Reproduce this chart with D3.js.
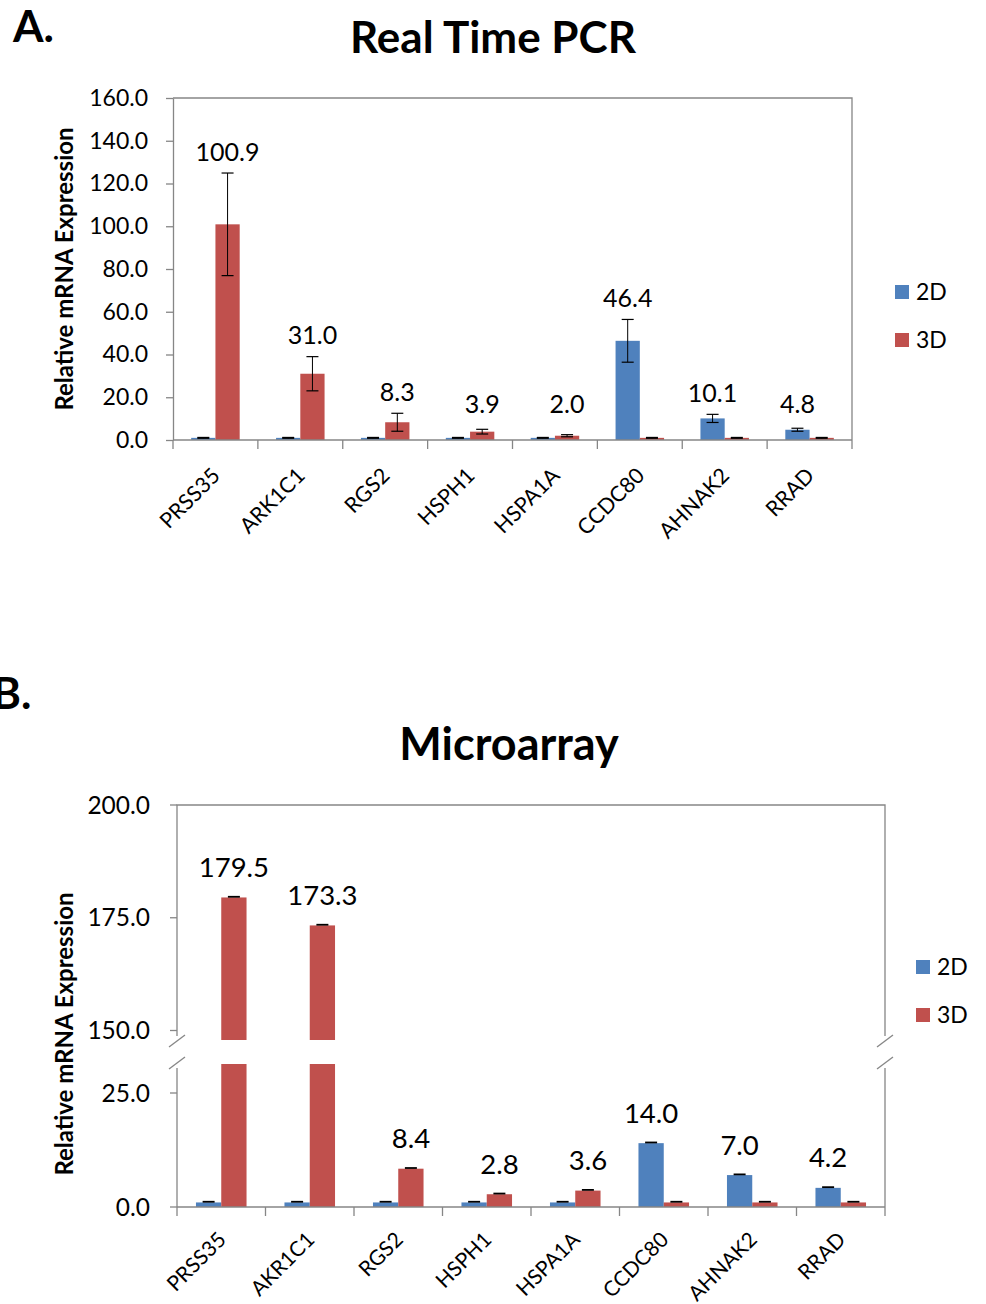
<!DOCTYPE html>
<html>
<head>
<meta charset="utf-8">
<script src="https://cdn.jsdelivr.net/npm/d3@7"></script>
<style>
  body { margin: 0; background: #fff; }
  svg text { font-family: Lato, "Open Sans", sans-serif; fill: #000; }
</style>
</head>
<body>
<svg id="chart" width="986" height="1304"></svg>
<script>
// ---- data: Real Time PCR (panel A)
const pcrGenes = ["PRSS35", "ARK1C1", "RGS2", "HSPH1", "HSPA1A", "CCDC80", "AHNAK2", "RRAD"];
const pcr2D = [1.0, 1.0, 1.0, 1.0, 1.0, 46.4, 10.1, 4.8];
const pcr3D = [100.9, 31.0, 8.3, 3.9, 2.0, 1.0, 1.0, 1.0];
const pcr2DErr = [0.2, 0.2, 0.2, 0.2, 0.2, 10.0, 1.9, 0.7];
const pcr3DErr = [24.0, 8.0, 4.2, 1.1, 0.5, 0.2, 0.2, 0.2];
const pcrTicks = [0, 20, 40, 60, 80, 100, 120, 140, 160];

// ---- data: Microarray (panel B)
const arrayGenes = ["PRSS35", "AKR1C1", "RGS2", "HSPH1", "HSPA1A", "CCDC80", "AHNAK2", "RRAD"];
const array2D = [1.0, 1.0, 1.0, 1.0, 1.0, 14.0, 7.0, 4.2];
const array3D = [179.5, 173.3, 8.4, 2.8, 3.6, 1.0, 1.0, 1.0];
const array2DErr = [0.15, 0.15, 0.15, 0.15, 0.15, 0.15, 0.15, 0.15];
const array3DErr = [0.15, 0.15, 0.15, 0.15, 0.15, 0.15, 0.15, 0.15];
const arrayTicksLow = [0, 25];
const arrayTicksHigh = [150, 175, 200];

const seriesNames = ["2D", "3D"];
const colors = ["#4F81BD", "#C0504D"];
const axisGray = "#868686";
const fmt = d3.format(".1f");

const svg = d3.select("#chart");

// shared: grouped bands for each gene
function makeX(genes, left, right) {
  const x0 = d3.scaleBand().domain(genes).range([left, right]).paddingInner(0).paddingOuter(0);
  // excel gap width 150% -> bars use 2/3.5 of band
  const x1 = d3.scaleBand().domain(seriesNames)
    .range([x0.bandwidth() * 0.75 / 3.5, x0.bandwidth() * (1 - 0.75 / 3.5)]).padding(0);
  return [x0, x1];
}

function drawXAxis(g, genes, x0, y, fontSize, drop) {
  g.append("line")
    .attr("x1", x0.range()[0]).attr("x2", x0.range()[1])
    .attr("y1", y).attr("y2", y)
    .attr("stroke", axisGray).attr("stroke-width", 1.3);
  const bounds = genes.map(d => x0(d)).concat([x0.range()[1]]);
  g.selectAll(".xtick").data(bounds).join("line")
    .attr("x1", d => d).attr("x2", d => d)
    .attr("y1", y).attr("y2", y + 9)
    .attr("stroke", axisGray).attr("stroke-width", 1.3);
  g.selectAll(".xlab").data(genes).join("text")
    .attr("text-anchor", "end")
    .attr("font-size", fontSize)
    .attr("transform", d => "translate(" + (x0(d) + x0.bandwidth() / 2 + 6) + "," + (y + drop) + ")rotate(-45)")
    .text(d => d);
}

function drawLegend(g, x, y) {
  seriesNames.forEach((s, i) => {
    g.append("rect")
      .attr("x", x).attr("y", y + i * 48 - 7)
      .attr("width", 14).attr("height", 14)
      .attr("fill", colors[i]);
    g.append("text")
      .attr("x", x + 21).attr("y", y + i * 48)
      .attr("dy", "0.35em")
      .attr("font-size", 23)
      .text(s);
  });
}

function drawErr(g, cx, yTop, yBot) {
  g.append("line").attr("x1", cx).attr("x2", cx).attr("y1", yTop).attr("y2", yBot)
    .attr("stroke", "#000").attr("stroke-width", 1);
  [yTop, yBot].forEach(yy => {
    g.append("line").attr("x1", cx - 6).attr("x2", cx + 6).attr("y1", yy).attr("y2", yy)
      .attr("stroke", "#000").attr("stroke-width", 1.2);
  });
}

// ================= Panel A =================
(function () {
  const left = 173, right = 852, top = 98, bottom = 440;
  const g = svg.append("g");
  const [x0, x1] = makeX(pcrGenes, left, right);
  const y = d3.scaleLinear().domain([0, 160]).range([bottom, top]);

  g.append("text").attr("x", 13).attr("y", 42).attr("font-size", 44).attr("font-weight", "bold").text("A.");
  g.append("text").attr("x", 493).attr("y", 53).attr("text-anchor", "middle")
    .attr("font-size", 44).attr("font-weight", "bold").text("Real Time PCR");

  // frame (top + right) and y axis
  g.append("path")
    .attr("d", "M" + left + "," + top + "H" + right + "V" + bottom)
    .attr("fill", "none").attr("stroke", axisGray).attr("stroke-width", 1.3);
  const yAxis = g.append("g").attr("transform", "translate(" + left + ",0)")
    .call(d3.axisLeft(y).tickValues(pcrTicks).tickFormat(fmt).tickSize(7).tickSizeOuter(0));
  yAxis.select(".domain").attr("stroke", axisGray).attr("stroke-width", 1.3);
  yAxis.selectAll(".tick line").attr("stroke", axisGray).attr("stroke-width", 1.3);
  yAxis.selectAll(".tick text").attr("font-size", 23).attr("font-family", "Lato, sans-serif")
    .attr("fill", "#000").attr("x", -25);

  g.append("text")
    .attr("transform", "translate(73," + ((top + bottom) / 2) + ")rotate(-90)")
    .attr("text-anchor", "middle").attr("font-size", 24).attr("font-weight", "bold")
    .text("Relative mRNA Expression");

  const vals = [pcr2D, pcr3D], errs = [pcr2DErr, pcr3DErr];
  pcrGenes.forEach((gene, i) => {
    seriesNames.forEach((s, k) => {
      const v = vals[k][i];
      const bx = x0(gene) + x1(s);
      g.append("rect")
        .attr("x", bx).attr("width", x1.bandwidth())
        .attr("y", y(v)).attr("height", y(0) - y(v))
        .attr("fill", colors[k]);
      drawErr(g, bx + x1.bandwidth() / 2, y(v + errs[k][i]), y(v - errs[k][i]));
    });
    // value label on the taller series
    const k = pcr3D[i] >= pcr2D[i] ? 1 : 0;
    const v = vals[k][i];
    const cx = x0(gene) + x1(seriesNames[k]) + x1.bandwidth() / 2;
    const ly = Math.min(y(v + errs[k][i]) - 21, 404);
    g.append("text").attr("x", cx).attr("y", ly).attr("dy", "0.35em")
      .attr("text-anchor", "middle").attr("font-size", 25).text(fmt(v));
  });

  drawXAxis(g, pcrGenes, x0, bottom, 21.5, 37);
  drawLegend(g, 895, 292);
})();

// ================= Panel B (broken axis) =================
(function () {
  const left = 177, right = 885, top = 805, bottom = 1207;
  const breakLow = 1064, breakHigh = 1040;
  const g = svg.append("g");
  const [x0, x1] = makeX(arrayGenes, left, right);
  const yLow = d3.scaleLinear().domain([0, 25]).range([bottom, 1093]);
  const yHigh = d3.scaleLinear().domain([150, 200]).range([1030.5, top]);
  const lowMax = yLow.invert(breakLow);

  g.append("text").attr("x", -8).attr("y", 709).attr("font-size", 44).attr("font-weight", "bold").text("B.");
  g.append("text").attr("x", 509).attr("y", 760).attr("text-anchor", "middle")
    .attr("font-size", 45).attr("font-weight", "bold").text("Microarray");

  // frame with gaps at the break
  g.append("path")
    .attr("d", "M" + left + "," + (breakHigh - 4) + "V" + top + "H" + right + "V" + (breakHigh - 4))
    .attr("fill", "none").attr("stroke", axisGray).attr("stroke-width", 1.3);
  [left, right].forEach(xx => {
    g.append("line").attr("x1", xx).attr("x2", xx).attr("y1", breakLow + 4).attr("y2", bottom)
      .attr("stroke", axisGray).attr("stroke-width", 1.3);
    [breakHigh + 1, breakLow - 1].forEach(yy => {
      g.append("line").attr("x1", xx - 8).attr("x2", xx + 8).attr("y1", yy + 6).attr("y2", yy - 6)
        .attr("stroke", axisGray).attr("stroke-width", 1.3);
    });
  });

  const tickG = g.append("g");
  [[yLow, arrayTicksLow], [yHigh, arrayTicksHigh]].forEach(([sc, ticks]) => {
    tickG.selectAll(null).data(ticks).join("line")
      .attr("x1", left - 7).attr("x2", left).attr("y1", d => sc(d)).attr("y2", d => sc(d))
      .attr("stroke", axisGray).attr("stroke-width", 1.3);
    tickG.selectAll(null).data(ticks).join("text")
      .attr("x", left - 27).attr("y", d => sc(d)).attr("dy", "0.35em")
      .attr("text-anchor", "end").attr("font-size", 24.5).text(d => fmt(d));
  });

  g.append("text")
    .attr("transform", "translate(73,1034)rotate(-90)")
    .attr("text-anchor", "middle").attr("font-size", 24).attr("font-weight", "bold")
    .text("Relative mRNA Expression");

  // map a value onto whichever segment it falls in
  function yPos(v) { return v <= lowMax ? yLow(v) : yHigh(v); }

  const vals = [array2D, array3D], errs = [array2DErr, array3DErr];
  arrayGenes.forEach((gene, i) => {
    seriesNames.forEach((s, k) => {
      const v = vals[k][i];
      const bx = x0(gene) + x1(s);
      if (v <= lowMax) {
        g.append("rect").attr("x", bx).attr("width", x1.bandwidth())
          .attr("y", yLow(v)).attr("height", yLow(0) - yLow(v)).attr("fill", colors[k]);
      } else {
        g.append("rect").attr("x", bx).attr("width", x1.bandwidth())
          .attr("y", breakLow).attr("height", yLow(0) - breakLow).attr("fill", colors[k]);
        g.append("rect").attr("x", bx).attr("width", x1.bandwidth())
          .attr("y", yHigh(v)).attr("height", breakHigh - yHigh(v)).attr("fill", colors[k]);
      }
      const cx = bx + x1.bandwidth() / 2;
      g.append("line").attr("x1", cx - 6).attr("x2", cx + 6)
        .attr("y1", yPos(v + errs[k][i])).attr("y2", yPos(v + errs[k][i]))
        .attr("stroke", "#000").attr("stroke-width", 1.8);
    });
    const k = array3D[i] >= array2D[i] ? 1 : 0;
    const v = vals[k][i];
    const cx = x0(gene) + x1(seriesNames[k]) + x1.bandwidth() / 2;
    g.append("text").attr("x", cx).attr("y", yPos(v) - 30).attr("dy", "0.35em")
      .attr("text-anchor", "middle").attr("font-size", 27.5).text(fmt(v));
  });

  drawXAxis(g, arrayGenes, x0, bottom, 21, 34);
  drawLegend(g, 916, 967);
})();
</script>
</body>
</html>
